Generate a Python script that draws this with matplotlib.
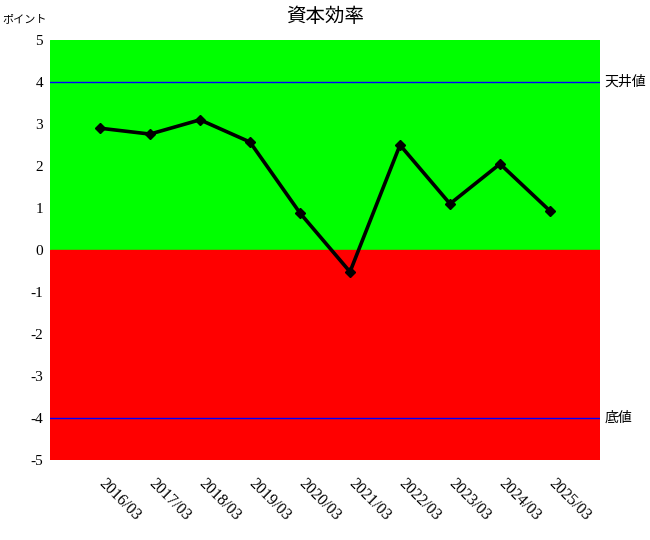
import matplotlib
matplotlib.use("Agg")
import matplotlib.pyplot as plt
import matplotlib.transforms as mtransforms

plt.rcParams['font.family'] = ['Liberation Serif', 'Noto Sans CJK JP']

categories = ["2016/03", "2017/03", "2018/03", "2019/03", "2020/03",
              "2021/03", "2022/03", "2023/03", "2024/03", "2025/03"]
values = [2.90, 2.76, 3.10, 2.57, 0.88, -0.52, 2.50, 1.10, 2.05, 0.93]
ceiling = 4
floor = -4
yticks = [5, 4, 3, 2, 1, 0, -1, -2, -3, -4, -5]

fig = plt.figure(figsize=(6.5, 5.4), dpi=100)
ax = fig.add_axes([50/650, 80/540, 550/650, 420/540])
x = list(range(len(categories)))

ax.axhspan(0, 5, color='#00ff00', zorder=0)
ax.axhspan(-5, 0, color='#ff0000', zorder=0)
ax.axhline(ceiling, color='blue', lw=1, zorder=1)
ax.axhline(floor, color='blue', lw=1, zorder=1)
ax.plot(x, values, color='black', lw=2.6, marker='D', markersize=5.5, zorder=3)

ax.set_xlim(-1, len(categories))
ax.set_ylim(-5, 5)
ax.set_yticks(yticks)
ax.set_yticklabels([str(v) for v in yticks], fontsize=11)
ax.set_xticks(x)
ax.set_xticklabels(categories, rotation=-45, ha='left', va='top',
                   rotation_mode='anchor', fontsize=11.5)
ax.tick_params(length=0, pad=5)
ax.tick_params(axis='x', pad=11)
offset = mtransforms.ScaledTranslation(7/100, 0, fig.dpi_scale_trans)
for lab in ax.get_xticklabels():
    lab.set_transform(lab.get_transform() + offset)
for s in ax.spines.values():
    s.set_visible(False)

ax.text(1.008, ceiling, "天井値", transform=ax.get_yaxis_transform(),
        va='center', ha='left', fontsize=10)
ax.text(1.008, floor, "底値", transform=ax.get_yaxis_transform(),
        va='center', ha='left', fontsize=10)

fig.text(2/650, 1 - 19/540, "ポイント", fontsize=8, va='center', ha='left')
fig.text(325/650, 1 - 17/540, "資本効率", fontsize=14, va='center', ha='center')

fig.savefig("out.png", dpi=100)
